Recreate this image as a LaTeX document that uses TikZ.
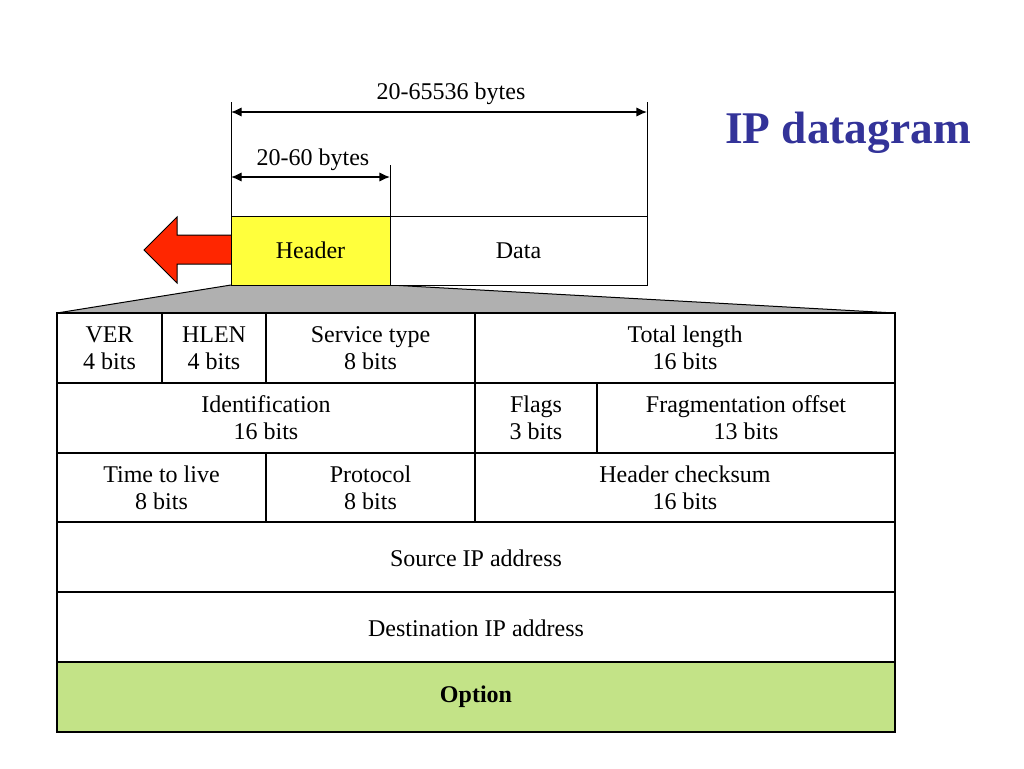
\documentclass[tikz,border=0pt]{standalone}
\usepackage{fontspec}
\setmainfont{Liberation Serif}
\usetikzlibrary{arrows.meta}
\definecolor{titleblue}{HTML}{333399}
\definecolor{optgreen}{HTML}{C3E387}
\definecolor{hdryellow}{HTML}{FFFF3C}
\definecolor{arrred}{HTML}{FF2600}
\definecolor{fangray}{HTML}{B0B0B0}
\begin{document}
\begin{tikzpicture}[x=0.75pt, y=-0.75pt,
    font=\fontsize{18}{20.25}\selectfont,
    tbl/.style={line width=1.5pt},
    lbl/.style={align=center, inner sep=0pt},
    dim/.style={line width=1pt, {Latex[length=8pt,width=7pt]}-{Latex[length=8pt,width=7pt]}}]
    \useasboundingbox (0,0) rectangle (1024,768);
    % table edges : left 57, right 895, rows of 70
    \def\L{57}
    \def\R{895}
    \def\T{313}
    \def\h{69.83}
    \def\Hl{231}
    \def\Hr{390}
    \def\Dr{647}
    \def\Ht{216}
    \def\Hb{285}
    % fan from header to table
    \draw[fill=fangray, line width=0.75pt] (\Hl,\Hb) -- (\Hr,\Hb) -- (\R,\T) -- (\L,\T) -- cycle;
    % red arrow behind the header
    \draw[fill=arrred, line width=0.75pt] (\Hl,235) -- (177,235) -- (177,217) -- (144,250) -- (177,283) -- (177,264) -- (\Hl,264);
    \draw[fill=hdryellow, line width=0.75pt] (\Hl,\Ht) rectangle (\Hr,\Hb);
    \draw[fill=white, line width=0.75pt] (\Hr,\Ht) rectangle (\Dr,\Hb);
    \node[lbl] (hdr) at ({(\Hl+\Hr)/2},250.5) {Header};
    \node[lbl] (data) at ({(\Hr+\Dr)/2},250.5) {Data};
    % ticks and lengths
    \coordinate (t1) at (\Hl,102);
    \coordinate (t2) at (\Dr,102);
    \coordinate (t3) at (\Hr,165);
    \coordinate (b1) at (\Hl,\Ht);
    \coordinate (b2) at (\Dr,\Ht);
    \coordinate (b3) at (\Hr,\Ht);
    \draw[line width=0.75pt] (t1) -- (b1);
    \draw[line width=0.75pt] (t2) -- (b2);
    \draw[line width=0.75pt] (t3) -- (b3);
    \coordinate (a1) at (\Hl,112);
    \coordinate (a2) at (\Dr,112);
    \coordinate (a3) at (\Hl,177);
    \coordinate (a4) at (\Hr,177);
    \draw[dim] (a1) -- (a2);
    \draw[dim] (a3) -- (a4);
    \node[anchor=base, inner sep=0pt] (lenall) at (451,99) {20-65536 bytes};
    \node[anchor=base, inner sep=0pt] (lenhdr) at (313,165) {20-60 bytes};
    \node[anchor=base, inner sep=0pt, text=titleblue, font=\fontsize{34}{40}\selectfont\bfseries] (title) at (848,143) {IP datagram};
    % rows
    \fill[optgreen] (\L,\T+5*\h) rectangle (\R,\T+6*\h);
    \foreach \i in {0,...,5}
        \draw[tbl] (\L,\T+\i*\h) rectangle (\R,\T+\i*\h+\h);
    \draw[tbl] (162,\T) -- (162,\T+\h);
    \draw[tbl] (266,\T) -- (266,\T+\h);
    \draw[tbl] (475,\T) -- (475,\T+3*\h);
    \draw[tbl] (597,\T+\h) -- (597,\T+2*\h);
    \draw[tbl] (266,\T+2*\h) -- (266,\T+3*\h);
    \node[lbl] (ver) at (109.5,348) {VER\\4 bits};
    \node[lbl] (hlen) at (214,348) {HLEN\\4 bits};
    \node[lbl] (svc) at (370.5,348) {Service type\\8 bits};
    \node[lbl] (totlen) at (685,348) {Total length\\16 bits};
    \node[lbl] (ident) at (266,418) {Identification\\16 bits};
    \node[lbl] (flags) at (536,418) {Flags\\3 bits};
    \node[lbl] (frag) at (746,418) {Fragmentation offset\\13 bits};
    \node[lbl] (ttl) at (161.5,488) {Time to live\\8 bits};
    \node[lbl] (proto) at (370.5,488) {Protocol\\8 bits};
    \node[lbl] (csum) at (685,488) {Header checksum\\16 bits};
    \node[lbl] (src) at (476,558) {Source IP address};
    \node[lbl] (dst) at (476,628) {Destination IP address};
    \node[lbl, font=\fontsize{18}{20.25}\selectfont\bfseries] (opt) at (476,697) {Option};
\end{tikzpicture}
\end{document}
